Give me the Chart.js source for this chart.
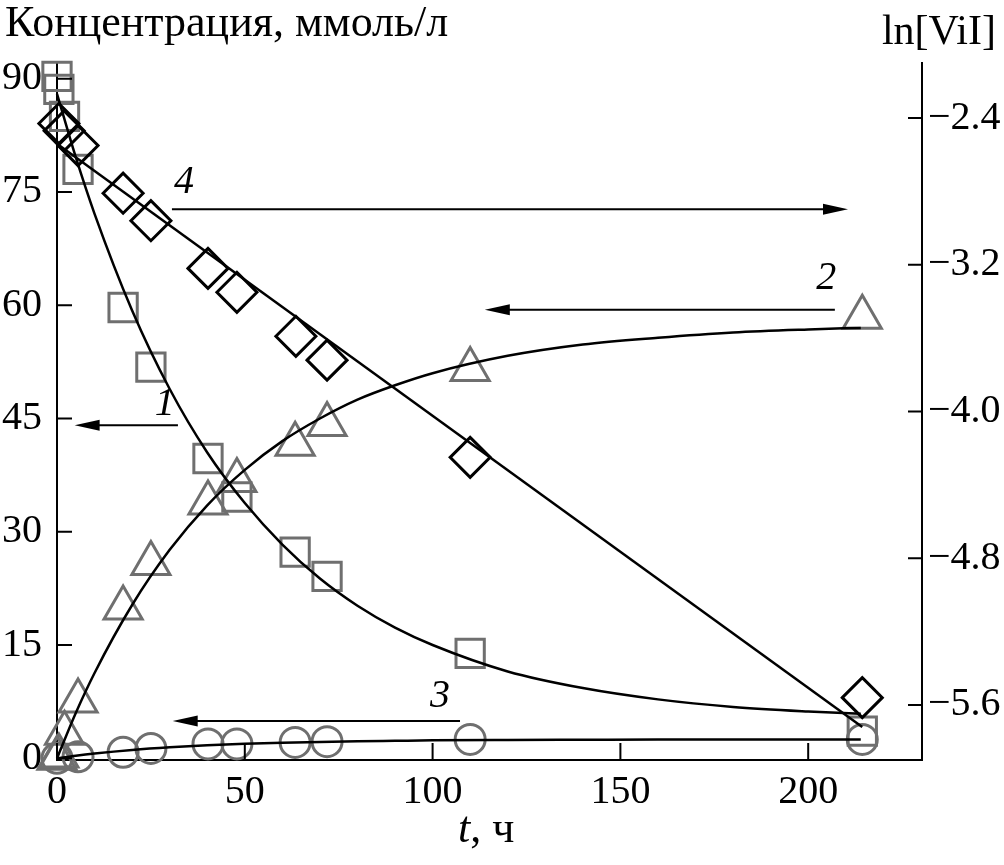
<!DOCTYPE html>
<html>
<head>
<meta charset="utf-8">
<script src="https://cdn.jsdelivr.net/npm/chart.js@4/dist/chart.umd.min.js"></script>
<style>
  html, body { margin: 0; padding: 0; background: #fff; }
  #wrap { width: 1004px; height: 865px; }
</style>
</head>
<body>
<div id="wrap"><canvas id="myChart" width="1004" height="865"></canvas></div>
<script>
// measured points, t in hours
let sqT = [0, 0.5, 2, 5.6, 17.6, 25, 40.2, 47.9, 63.4, 71.9, 110, 214.4];
let sqC = [90.3, 88.6, 85, 78, 59.7, 51.8, 39.7, 34.6, 27.3, 24.1, 13.9, 3.6];
let triT = [0, 0.5, 2, 5.6, 17.6, 25, 40.2, 47.9, 63.4, 71.9, 110, 214.4];
let triC = [0, 0.3, 3.3, 7.6, 19.9, 25.8, 33.8, 36.8, 41.6, 44.2, 51.5, 58.4];
let circT = [0, 5.6, 17.6, 25, 40.2, 47.9, 63.4, 71.9, 110, 214.4];
let circC = [0, 0.2, 0.8, 1.3, 1.9, 1.9, 2.1, 2.2, 2.5, 2.5];
let diaT = [0.5, 1.9, 5.6, 17.6, 25, 40.2, 47.9, 63.6, 71.9, 110, 214.4];
let diaLn = [-2.43, -2.47, -2.55, -2.81, -2.96, -3.22, -3.35, -3.59, -3.72, -4.25, -5.56];

// fitted curves
let fitT = [0, 5, 10, 20, 30, 40, 50, 60, 70, 80, 90, 100, 120, 140, 160, 180, 200, 214];
let fit1 = [88, 79.6, 72.1, 59.3, 48.9, 40.5, 33.8, 28.3, 23.8, 20.2, 17.3, 15.0, 11.5, 9.3, 7.8, 6.8, 6.2, 5.9];
let fit2 = [0, 6.0, 11.3, 20.3, 27.6, 33.5, 38.2, 42.0, 45.0, 47.5, 49.4, 51.0, 53.3, 54.8, 55.7, 56.4, 56.8, 57.0];
let fit3 = [0, 0.34, 0.63, 1.1, 1.45, 1.71, 1.91, 2.06, 2.17, 2.25, 2.31, 2.37, 2.42, 2.45, 2.48, 2.49, 2.5, 2.5];
let fit4T = [0, 214.4];
let fit4 = [-2.54, -5.72];

// tick labels
let leftTicks = [0, 15, 30, 45, 60, 75, 90];
let rightTicks = [-2.4, -3.2, -4.0, -4.8, -5.6];
let xTicks = [0, 50, 100, 150, 200];

// curve numbers and arrows (t, concentration)
let curveNames = ['4', '2', '1', '3'];
let nameT = [33.8, 204.8, 28.7, 102];
let nameC = [76.2, 63.6, 46.8, 8.2];
let arrowFromT = [30.6, 207.1, 32.2, 107.3];
let arrowToT = [210.6, 113.9, 4.7, 30.8];
let arrowC = [72.7, 59.4, 44.1, 4.93];

const pts = (xs, ys) => xs.map((x, i) => ({ x: x, y: ys[i] }));
const gray = '#6f6f6f';
const serif = "'Liberation Serif', 'DejaVu Serif', serif";

let lineDs = (data, axis) => ({
  type: 'line', data: data, yAxisID: axis, borderColor: '#000', borderWidth: 2.5,
  pointRadius: 0, fill: false, cubicInterpolationMode: 'monotone', clip: false
});
let markDs = (data, axis, style, r, color, w) => ({
  type: 'scatter', data: data, yAxisID: axis, pointStyle: style, pointRadius: r,
  borderColor: color, backgroundColor: 'rgba(0,0,0,0)', pointBorderWidth: w,
  showLine: false, clip: false
});

const extras = {
  id: 'extras',
  afterDraw(chart) {
    const c = chart.ctx, xs = chart.scales.x, y = chart.scales.y, y2 = chart.scales.y2;
    const a = chart.chartArea;
    c.save();
    c.strokeStyle = '#000';
    c.lineWidth = 2;
    // inward ticks
    c.beginPath();
    leftTicks.forEach(v => { const p = y.getPixelForValue(v); c.moveTo(a.left, p); c.lineTo(a.left + 15, p); });
    rightTicks.forEach(v => { const p = y2.getPixelForValue(v); c.moveTo(a.right, p); c.lineTo(a.right - 14, p); });
    xTicks.forEach(v => { const p = xs.getPixelForValue(v); c.moveTo(p, a.bottom); c.lineTo(p, a.bottom - 17); });
    c.stroke();
    // arrows
    c.fillStyle = '#000';
    arrowC.forEach((v, i) => {
      const py = y.getPixelForValue(v);
      const x0 = xs.getPixelForValue(arrowFromT[i]), x1 = xs.getPixelForValue(arrowToT[i]);
      const dir = x1 > x0 ? 1 : -1;
      c.beginPath();
      c.moveTo(x0, py); c.lineTo(x1 - dir * 20, py);
      c.stroke();
      c.beginPath();
      c.moveTo(x1, py); c.lineTo(x1 - dir * 25, py - 5.5); c.lineTo(x1 - dir * 25, py + 5.5);
      c.closePath(); c.fill();
    });
    // curve numbers
    c.font = 'italic 40px ' + serif;
    c.textAlign = 'center';
    c.textBaseline = 'middle';
    curveNames.forEach((s, i) => c.fillText(s, xs.getPixelForValue(nameT[i]), y.getPixelForValue(nameC[i])));
    // axis titles
    c.font = '44px ' + serif;
    c.textAlign = 'left';
    c.textBaseline = 'alphabetic';
    c.fillText('Концентрация, ммоль/л', 5, 36);
    c.font = '42px ' + serif;
    c.textAlign = 'right';
    c.fillText('ln[ViI]', 996, 44);
    c.textAlign = 'left';
    c.font = 'italic 44px ' + serif;
    const tw = c.measureText('t').width;
    c.fillText('t', 458, 842);
    c.font = '44px ' + serif;
    c.fillText(', ч', 458 + tw, 842);
    c.restore();
  }
};

const tickFont = { family: serif, size: 40 };
const minus = v => (v < 0 ? '\u2212' + Math.abs(v).toFixed(1) : String(v));

let myChart = new Chart(document.getElementById('myChart').getContext('2d'), {
  data: {
    datasets: [
      lineDs(pts(fitT, fit1), 'y'),
      lineDs(pts(fitT, fit2), 'y'),
      lineDs(pts(fitT, fit3), 'y'),
      lineDs(pts(fit4T, fit4), 'y2'),
      markDs(pts(diaT, diaLn), 'y2', 'rectRot', 20, '#000', 3),
      markDs(pts(sqT, sqC), 'y', 'rect', 20, gray, 3),
      markDs(pts(triT, triC), 'y', 'triangle', 22, gray, 3),
      markDs(pts(circT, circC), 'y', 'circle', 15, gray, 3)
    ]
  },
  options: {
    responsive: false,
    animation: false,
    layout: { padding: { top: 63, left: 0, right: 0, bottom: 0 } },
    plugins: { legend: { display: false }, tooltip: { enabled: false } },
    scales: {
      x: {
        type: 'linear', min: 0, max: 230.3,
        grid: { display: false },
        border: { display: true, color: '#000', width: 2 },
        afterBuildTicks: s => { s.ticks = xTicks.map(v => ({ value: v })); },
        afterFit: s => { s.height = 105; },
        ticks: { font: tickFont, color: '#000', padding: 0, maxRotation: 0 }
      },
      y: {
        type: 'linear', position: 'left', min: -0.23, max: 92.08,
        grid: { display: false },
        border: { display: true, color: '#000', width: 2 },
        afterBuildTicks: s => { s.ticks = leftTicks.map(v => ({ value: v })); },
        afterFit: s => { s.width = 57; },
        ticks: { font: tickFont, color: '#000', padding: 7 }
      },
      y2: {
        type: 'linear', position: 'right', min: -5.9, max: -2.1,
        grid: { display: false },
        border: { display: true, color: '#000', width: 2 },
        afterBuildTicks: s => { s.ticks = rightTicks.map(v => ({ value: v })); },
        afterFit: s => { s.width = 82; },
        ticks: { font: tickFont, color: '#000', padding: -2, callback: minus }
      }
    }
  },
  plugins: [extras]
});
</script>
</body>
</html>
